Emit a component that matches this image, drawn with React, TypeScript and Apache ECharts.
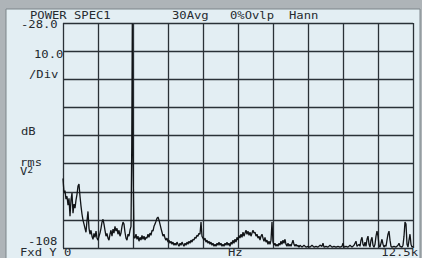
import React, { useEffect, useRef } from "react";
import * as echarts from "echarts";

// Frequency axis (Hz) and level axis (dB rms V^2)
const freqMin = 0;
const freqMax = 12500;
const freqStep = 1250;
const dbMin = -108;
const dbMax = -28;
const divisions = 8;

// Header / annotation texts
const headerTexts = ["POWER SPEC1", "30Avg", "0%Ovlp", "Hann"];
const yLabelTexts = ["-28.0", "10.0", "/Div", "dB", "rms", "-108"];
const footerTexts = ["Fxd Y 0", "Hz", "12.5k"];

// Spectrum trace: [frequency Hz, level dB]
const spectrum: [number, number][] = [
  [0, -83.3], [36, -88.4], [71, -87.6], [107, -90.6], [143, -89.6], [179, -92.8], [214, -90.3], [250, -96.7],
  [286, -90.9], [321, -88.5], [357, -95.6], [393, -92.4], [429, -93.8], [464, -91.0], [500, -88.9], [536, -86.0],
  [571, -85.3], [607, -89.6], [643, -93.1], [679, -96.0], [714, -98.1], [750, -99.5], [786, -101.0], [821, -102.4],
  [857, -98.3], [893, -95.0], [929, -101.0], [964, -103.1], [1000, -101.7], [1036, -103.8], [1071, -104.9],
  [1107, -102.8], [1143, -104.2], [1179, -102.0], [1214, -104.5], [1250, -105.2], [1286, -103.8], [1321, -102.7],
  [1357, -101.0], [1393, -98.8], [1429, -97.8], [1464, -99.5], [1500, -101.7], [1536, -103.8], [1571, -102.8],
  [1607, -104.5], [1643, -105.2], [1679, -103.1], [1714, -101.7], [1750, -103.8], [1786, -101.3], [1821, -102.7],
  [1857, -100.3], [1893, -102.0], [1929, -101.0], [1964, -103.1], [2000, -101.7], [2036, -103.8], [2071, -102.7],
  [2107, -100.3], [2143, -98.8], [2179, -99.5], [2214, -102.4], [2250, -104.5], [2286, -105.2], [2321, -103.1],
  [2357, -103.8], [2393, -101.7], [2429, -100.3], [2455, -72.0], [2475, -28.3], [2495, -72.0], [2536, -104.2],
  [2571, -104.5], [2607, -103.1], [2643, -104.9], [2679, -103.8], [2714, -105.6], [2750, -104.2], [2786, -105.2],
  [2821, -103.5], [2857, -104.9], [2893, -103.8], [2929, -105.2], [2964, -104.2], [3000, -104.5], [3036, -103.1],
  [3071, -104.2], [3107, -102.7], [3143, -103.5], [3179, -101.7], [3214, -102.0], [3250, -100.3], [3286, -99.5],
  [3321, -98.5], [3357, -97.4], [3393, -97.0], [3429, -98.1], [3464, -99.5], [3500, -101.0], [3536, -102.4],
  [3571, -103.8], [3607, -103.1], [3643, -104.5], [3679, -105.2], [3714, -104.5], [3750, -105.9], [3786, -105.2],
  [3821, -106.3], [3857, -105.6], [3893, -106.7], [3929, -105.9], [3964, -107.0], [4000, -106.3], [4036, -107.0],
  [4071, -105.9], [4107, -106.7], [4143, -107.4], [4179, -106.3], [4214, -107.0], [4250, -105.9], [4286, -106.7],
  [4321, -107.4], [4357, -106.3], [4393, -107.0], [4429, -105.9], [4464, -106.7], [4500, -105.6], [4536, -106.3],
  [4571, -105.2], [4607, -105.9], [4643, -104.9], [4679, -105.2], [4714, -104.2], [4750, -104.5], [4786, -103.5],
  [4821, -103.8], [4857, -102.7], [4893, -103.1], [4929, -98.8], [4964, -103.8], [5000, -104.5], [5036, -105.2],
  [5071, -104.5], [5107, -105.9], [5143, -105.2], [5179, -106.3], [5214, -105.6], [5250, -106.7], [5286, -105.9],
  [5321, -107.0], [5357, -106.3], [5393, -107.4], [5429, -106.7], [5464, -107.4], [5500, -106.3], [5536, -107.0],
  [5571, -105.9], [5607, -107.0], [5643, -106.3], [5679, -107.4], [5714, -106.7], [5750, -107.4], [5786, -106.3],
  [5821, -107.0], [5857, -105.9], [5893, -107.0], [5929, -106.3], [5964, -107.4], [6000, -105.9], [6036, -106.7],
  [6071, -105.2], [6107, -106.3], [6143, -104.9], [6179, -105.9], [6214, -104.2], [6250, -105.2], [6286, -103.5],
  [6321, -104.5], [6357, -103.1], [6393, -104.2], [6429, -102.4], [6464, -103.8], [6500, -102.7], [6536, -101.7],
  [6571, -103.1], [6607, -102.0], [6643, -103.5], [6679, -102.4], [6714, -103.8], [6750, -102.7], [6786, -101.7],
  [6821, -102.7], [6857, -102.4], [6893, -103.8], [6929, -103.1], [6964, -104.5], [7000, -103.8], [7036, -105.2],
  [7071, -103.8], [7107, -103.1], [7143, -104.5], [7179, -105.6], [7214, -104.2], [7250, -105.9], [7286, -105.2],
  [7321, -106.7], [7357, -105.6], [7393, -106.7], [7429, -105.2], [7464, -98.8], [7500, -105.9], [7536, -107.0],
  [7571, -106.3], [7607, -107.4], [7643, -106.7], [7679, -107.4], [7714, -106.3], [7750, -107.0], [7786, -105.6],
  [7821, -106.7], [7857, -105.2], [7893, -106.3], [7929, -104.9], [7964, -106.7], [8000, -107.4], [8036, -106.3],
  [8071, -107.4], [8107, -106.7], [8143, -107.4], [8179, -106.3], [8214, -105.2], [8250, -106.7], [8286, -107.4],
  [8321, -106.7], [8357, -107.4], [8393, -107.0], [8429, -107.7], [8464, -107.0], [8536, -107.7], [8607, -107.0],
  [8679, -107.7], [8750, -107.4], [8821, -107.7], [8893, -107.0], [8964, -107.7], [9036, -107.4], [9107, -107.7],
  [9179, -107.0], [9250, -107.4], [9286, -106.3], [9321, -107.7], [9393, -107.4], [9464, -107.7], [9536, -107.0],
  [9607, -107.7], [9679, -107.4], [9750, -107.7], [9821, -107.4], [9893, -107.7], [9964, -107.4], [10000, -106.3],
  [10036, -107.7], [10107, -107.4], [10179, -107.7], [10250, -107.0], [10321, -107.7], [10393, -107.0],
  [10464, -105.6], [10500, -107.4], [10571, -106.7], [10607, -107.4], [10643, -105.2], [10679, -104.2],
  [10714, -106.7], [10750, -107.4], [10786, -105.9], [10821, -107.4], [10857, -104.9], [10893, -103.8],
  [10929, -106.7], [10964, -107.7], [11000, -105.2], [11036, -104.2], [11071, -107.0], [11107, -107.7],
  [11143, -106.7], [11179, -103.8], [11214, -102.0], [11250, -103.8], [11286, -107.0], [11321, -107.7],
  [11357, -106.3], [11393, -104.9], [11429, -106.7], [11464, -107.7], [11500, -107.0], [11536, -107.4],
  [11571, -105.2], [11607, -103.1], [11643, -102.0], [11679, -105.2], [11714, -107.4], [11750, -107.7],
  [11821, -107.4], [11893, -107.7], [11964, -107.0], [12000, -106.3], [12036, -107.4], [12107, -107.7],
  [12143, -107.0], [12179, -103.8], [12214, -98.8], [12250, -99.5], [12286, -106.7], [12321, -107.7],
  [12357, -105.2], [12393, -103.1], [12429, -106.7], [12464, -107.7], [12500, -107.4],
];

const FONT = "DejaVu Sans Mono";
const INK = "#262b30";

function txt(text: string, x: number, y: number, align: string = "left") {
  return {
    type: "text",
    x,
    y,
    scaleX: 1.22,
    style: {
      text,
      fill: INK,
      font: `10px "${FONT}"`,
      textAlign: align,
      textVerticalAlign: "middle",
    },
  };
}

export default function App() {
  const ref = useRef<HTMLDivElement>(null);

  useEffect(() => {
    if (!ref.current) return;
    const chart = echarts.init(ref.current, null, { renderer: "svg" });
    const [hPower, hAvg, hOvlp, hWin] = headerTexts;
    const [lTop, lScale, lDiv, lDb, lRms, lBot] = yLabelTexts;
    const [fMode, fHz, fEnd] = footerTexts;

    chart.setOption({
      animation: false,
      backgroundColor: "#aeb4b8",
      grid: { left: 63, top: 23, width: 350, height: 225, containLabel: false },
      xAxis: {
        type: "value",
        min: freqMin,
        max: freqMax,
        interval: freqStep,
        axisLine: { show: false },
        axisTick: { show: false },
        axisLabel: { show: false },
        splitLine: { show: true, lineStyle: { color: "#2a3137", width: 1.3 } },
      },
      yAxis: [
        {
          type: "value",
          min: dbMin,
          max: dbMax,
          axisLine: { show: false },
          axisTick: { show: false },
          axisLabel: { show: false },
          splitLine: { show: false },
        },
        {
          type: "value",
          min: 0,
          max: divisions,
          interval: 1,
          position: "left",
          axisLine: { show: false },
          axisTick: { show: false },
          axisLabel: { show: false },
          splitLine: { show: true, lineStyle: { color: "#2a3137", width: 1.3 } },
        },
      ],
      graphic: [
        {
          type: "rect",
          z: -10,
          shape: { x: 6, y: 9, width: 414, height: 260 },
          style: { fill: "#e3eef3", stroke: "#7d858a", lineWidth: 1 },
        },
        txt(hPower, 30, 16),
        txt(hAvg, 172, 16),
        txt(hOvlp, 230, 16),
        txt(hWin, 289, 16),
        txt(lTop, 21, 25),
        txt(lScale, 34, 55),
        txt(lDiv, 29, 75),
        txt(lDb, 21, 132),
        txt(lRms, 20, 163),
        {
          type: "text",
          x: 20,
          y: 172,
          scaleX: 1.22,
          style: {
            text: "{v|V}{s|2}",
            fill: INK,
            textVerticalAlign: "middle",
            rich: {
              v: { font: `10px "${FONT}"`, fill: INK },
              s: { font: `8px "${FONT}"`, fill: INK, padding: [0, 0, 4, 0] },
            },
          },
        },
        txt(lBot, 28, 242),
        txt(fMode, 20, 253),
        txt(fHz, 228, 253),
        txt(fEnd, 418, 253, "right"),
      ],
      series: [
        {
          type: "line",
          xAxisIndex: 0,
          yAxisIndex: 0,
          data: spectrum,
          symbol: "none",
          clip: true,
          lineStyle: { color: "#111417", width: 1.3 },
          z: 5,
        },
      ],
    });
    return () => chart.dispose();
  }, []);

  return (
    <div
      ref={ref}
      style={{ position: "absolute", left: 0, top: 0, width: 422, height: 258 }}
    />
  );
}
